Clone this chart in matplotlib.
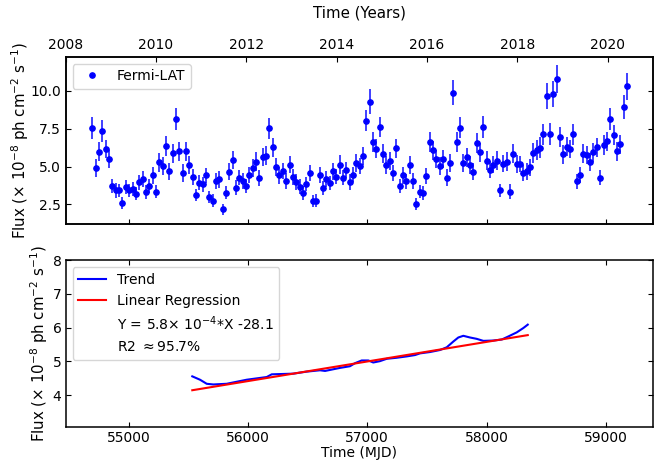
import numpy as np
import matplotlib.pyplot as plt
from matplotlib.lines import Line2D

# Fermi-LAT light curve, 28-day bins
bin_start = 54696
bin_width = 28
flux = [
    7.57, 4.89, 5.97, 7.35, 6.15, 5.49, 3.70, 3.43, 3.43, 2.61, 3.65, 3.43, 3.52, 3.21, 3.96, 4.16, 3.30,
    3.70, 4.43, 3.34, 5.27, 5.04, 6.35, 4.69, 5.87, 8.14, 6.00, 4.56, 6.00, 5.11, 4.31, 3.12, 3.94, 3.83,
    4.41, 2.99, 2.75, 4.07, 4.16, 2.17, 3.28, 4.67, 5.44, 3.61, 4.27, 4.05, 3.72, 4.45, 4.91, 5.33, 4.25,
    5.62, 5.71, 7.52, 6.26, 4.98, 4.43, 4.71, 4.05, 5.13, 4.29, 3.98, 3.67, 3.25, 3.85, 4.58, 2.75, 2.75,
    4.45, 3.58, 4.18, 3.92, 4.69, 4.34, 5.13, 4.27, 4.78, 3.98, 4.47, 5.22, 5.04, 5.69, 8.03, 9.29, 6.64,
    6.17, 7.61, 5.84, 5.09, 5.38, 4.58, 6.20, 3.70, 4.43, 4.03, 5.13, 4.03, 2.55, 3.34, 3.25, 4.38, 6.64,
    6.08, 5.49, 5.02, 5.49, 4.27, 5.24,
    9.89, 6.62, 7.57, 5.22, 5.60, 5.09, 4.67, 6.57, 5.93, 7.63, 5.40, 4.80, 5.13, 5.40, 3.43, 5.20, 5.33,
    3.34, 5.84, 5.18, 5.18, 4.58, 4.69, 4.94, 5.89, 6.08, 6.24, 7.13, 9.65, 7.13, 9.78, 10.80, 6.95, 5.80,
    6.30, 6.17, 7.13, 4.03, 4.43, 5.84, 5.77, 5.29, 5.95, 6.26, 4.27, 6.42, 6.66, 8.14, 7.08, 6.02, 6.46,
    8.92, 10.31,
]
flux_err = [
    0.72, 0.60, 0.62, 0.75, 0.60, 0.58, 0.45, 0.48, 0.45, 0.40, 0.45, 0.45, 0.48, 0.42, 0.50, 0.52, 0.45,
    0.48, 0.55, 0.45, 0.60, 0.58, 0.65, 0.55, 0.62, 0.75, 0.65, 0.58, 0.65, 0.60, 0.55, 0.42, 0.48, 0.50,
    0.52, 0.40, 0.42, 0.52, 0.55, 0.38, 0.45, 0.58, 0.60, 0.48, 0.52, 0.50, 0.48, 0.55, 0.58, 0.60, 0.55,
    0.60, 0.62, 0.70, 0.62, 0.58, 0.55, 0.55, 0.50, 0.58, 0.52, 0.50, 0.48, 0.45, 0.48, 0.55, 0.40, 0.42,
    0.55, 0.45, 0.50, 0.48, 0.55, 0.50, 0.62, 0.52, 0.55, 0.50, 0.52, 0.58, 0.55, 0.60, 0.70, 0.85, 0.65,
    0.62, 0.68, 0.62, 0.58, 0.60, 0.55, 0.65, 0.48, 0.55, 0.50, 0.60, 0.52, 0.40, 0.45, 0.45, 0.52, 0.65,
    0.62, 0.60, 0.58, 0.60, 0.55, 0.58,
    0.85, 0.65, 0.70, 0.58, 0.60, 0.58, 0.55, 0.65, 0.60, 0.72, 0.60, 0.55, 0.58, 0.60, 0.45, 0.58, 0.60,
    0.50, 0.62, 0.58, 0.55, 0.52, 0.55, 0.58, 0.65, 0.65, 0.68, 0.70, 0.85, 0.72, 0.85, 0.92, 0.68, 0.62,
    0.62, 0.60, 0.70, 0.50, 0.52, 0.62, 0.60, 0.58, 0.62, 0.62, 0.52, 0.65, 0.65, 0.72, 0.65, 0.62, 0.65,
    0.80, 0.90,
]

# smoothed long-term trend
trend_mjd = [55533, 55598, 55654, 55709, 55821, 55989, 56157, 56199, 56380, 56492, 56604, 56646,
             56715, 56771, 56855, 56897, 56953, 57009, 57050, 57106, 57163, 57246, 57330, 57400,
             57442, 57526, 57610, 57666, 57721, 57763, 57805, 57861, 57917, 57973, 58056, 58127,
             58182, 58252, 58308, 58345]
trend_flux = [4.56, 4.46, 4.34, 4.32, 4.34, 4.46, 4.54, 4.62, 4.64, 4.70, 4.74, 4.72,
              4.77, 4.81, 4.86, 4.95, 5.03, 5.03, 4.97, 5.01, 5.08, 5.11, 5.15, 5.19,
              5.24, 5.28, 5.34, 5.42, 5.59, 5.71, 5.76, 5.71, 5.67, 5.61, 5.62, 5.65,
              5.74, 5.86, 5.99, 6.09]

# linear regression of the trend
slope = 5.8e-4
intercept = -28.06
r2 = 95.7

year_ticks = [2008, 2010, 2012, 2014, 2016, 2018, 2020]
mjd_ticks = [55000, 56000, 57000, 58000, 59000]

plt.rcParams["font.size"] = 10
plt.rcParams["axes.linewidth"] = 1.1

mjd = bin_start + bin_width * np.arange(len(flux))
ylabel = "Flux ($\\times$ 10$^{-8}$ ph cm$^{-2}$ s$^{-1}$)"
label_size = 10.8

fig = plt.figure(figsize=(6.65, 4.62), dpi=100)
ax1 = fig.add_axes([0.0988, 0.515, 0.883, 0.362])
ax2 = fig.add_axes([0.0988, 0.0764, 0.883, 0.3606])

# top panel: light curve
ax1.errorbar(mjd, flux, yerr=flux_err, fmt="none", ecolor="blue", elinewidth=1.4, alpha=0.75)
ax1.plot(mjd, flux, "o", color="blue", markersize=3.8, label="Fermi-LAT")
ax1.set_xlim(54472, 59394)
ax1.set_ylim(1.2, 12.25)
ax1.set_xticks(mjd_ticks)
ax1.set_xticklabels([])
ax1.set_yticks([2.5, 5.0, 7.5, 10.0])
ax1.set_ylabel(ylabel, fontsize=label_size, labelpad=-1)
ax1.tick_params(direction="in", right=True, top=False)
ax1.legend(loc="upper left")

top = ax1.twiny()
top.set_xlim(2008, 2021)
top.set_xticks(year_ticks)
top.set_xlabel("Time (Years)", fontsize=label_size, labelpad=15)
top.tick_params(direction="in")

# bottom panel: trend and regression
fit_x = np.array([trend_mjd[0], trend_mjd[-1]])
ax2.plot(trend_mjd, trend_flux, color="blue", linewidth=1.5, label="Trend")
ax2.plot(fit_x, slope * fit_x + intercept, color="red", linewidth=1.5, label="Linear Regression")
ax2.set_xlim(54472, 59394)
ax2.set_ylim(3.07, 8)
ax2.set_xticks(mjd_ticks)
ax2.set_yticks([4, 5, 6, 7, 8])
ax2.set_xlabel("Time (MJD)", labelpad=1)
ax2.set_ylabel(ylabel, fontsize=label_size, labelpad=2)
ax2.tick_params(direction="in", top=True, right=True, pad=3)

handles, labels = ax2.get_legend_handles_labels()
blank = Line2D([], [], linestyle="none")
handles += [blank, blank]
labels += [f"Y = {slope * 1e4:.1f}$\\times$ 10$^{{-4}}$*X {intercept:.1f}",
           f"R2 $\\approx${r2}%"]
ax2.legend(handles, labels, loc="upper left")

fig.savefig("out.png", dpi=100)
